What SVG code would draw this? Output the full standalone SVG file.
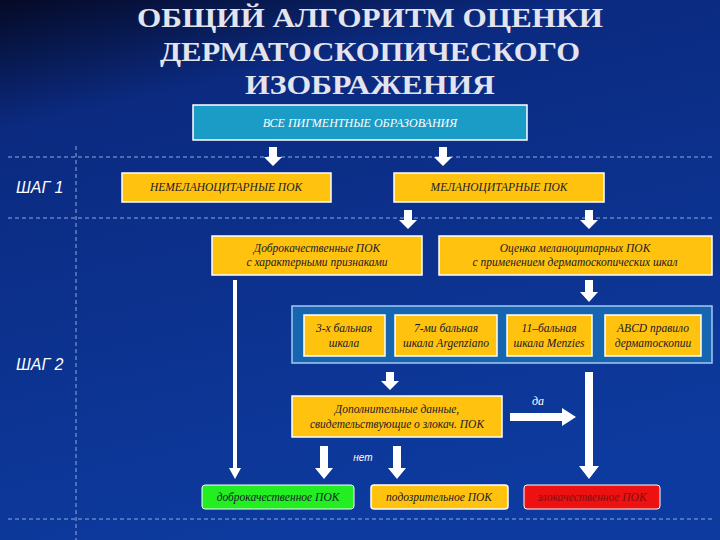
<svg xmlns="http://www.w3.org/2000/svg" width="720" height="540" viewBox="0 0 720 540">
<defs>
<linearGradient id="bg" x1="0" y1="0" x2="0.3" y2="1">
<stop offset="0" stop-color="#050a25"/><stop offset="0.22" stop-color="#0b2a80"/><stop offset="1" stop-color="#0d3a9e"/>
</linearGradient>
<style>
.t{font-family:"Liberation Serif",serif;font-style:italic;font-size:11.5px;text-anchor:middle;fill:#1a1a2a}
.y{fill:#ffc20e;stroke:#ffffff;stroke-width:1.5}
.d{stroke:#8fa8e0;stroke-width:1;stroke-dasharray:4 3;fill:none}
.a{fill:#ffffff}
.s{font-family:"Liberation Sans",sans-serif;font-style:italic;font-size:16px;fill:#ffffff}
.h{font-family:"Liberation Serif","DejaVu Serif",serif;font-weight:bold;font-size:28px;fill:#e4e4ee;text-anchor:middle}
</style>
</defs>
<rect width="720" height="540" fill="url(#bg)"/>
<g id="title">
<text class="h" x="370" y="27" textLength="466" lengthAdjust="spacingAndGlyphs">ОБЩИЙ АЛГОРИТМ ОЦЕНКИ</text>
<text class="h" x="370" y="61" textLength="420" lengthAdjust="spacingAndGlyphs">ДЕРМАТОСКОПИЧЕСКОГО</text>
<text class="h" x="370" y="94" textLength="250" lengthAdjust="spacingAndGlyphs">ИЗОБРАЖЕНИЯ</text>
</g>
<g id="grid">
<line class="d" x1="8" y1="157" x2="712" y2="157"/>
<line class="d" x1="8" y1="218" x2="712" y2="218"/>
<line class="d" x1="8" y1="519" x2="712" y2="519"/>
<line class="d" x1="76" y1="146" x2="76" y2="540"/>
<text class="s" x="16" y="193">ШАГ 1</text>
<text class="s" x="16" y="370">ШАГ 2</text>
</g>
<g id="n-all"><rect x="193" y="105" width="334" height="35" fill="#1a9cc6" stroke="#ffffff" stroke-width="1.5"/><text class="t" x="360" y="127" style="fill:#ffffff;font-size:12px">ВСЕ ПИГМЕНТНЫЕ ОБРАЗОВАНИЯ</text></g>
<g id="n-nonmel"><rect class="y" x="122" y="173" width="209" height="29"/><text class="t" x="226" y="191">НЕМЕЛАНОЦИТАРНЫЕ ПОК</text></g>
<g id="n-mel"><rect class="y" x="394" y="173" width="210" height="29"/><text class="t" x="499" y="191">МЕЛАНОЦИТАРНЫЕ ПОК</text></g>
<g id="n-benign-feat"><rect class="y" x="212" y="236" width="210" height="39"/><text class="t" x="317" y="252">Доброкачественные ПОК</text><text class="t" x="317" y="266">с характерными признаками</text></g>
<g id="n-eval"><rect class="y" x="439" y="236" width="273" height="39"/><text class="t" x="575" y="252">Оценка меланоцитарных ПОК</text><text class="t" x="575" y="266">с применением дерматоскопических шкал</text></g>
<g id="n-scales"><rect x="292" y="306" width="420" height="57" fill="#1565b0" stroke="#a8c8f0" stroke-width="1.5"/></g>
<g id="n-s3"><rect class="y" x="304" y="315" width="81" height="41"/><text class="t" x="344" y="332">3-х бальная</text><text class="t" x="344" y="347">шкала</text></g>
<g id="n-s7"><rect class="y" x="395" y="315" width="102" height="41"/><text class="t" x="446" y="332">7-ми бальная</text><text class="t" x="446" y="347">шкала Argenziano</text></g>
<g id="n-s11"><rect class="y" x="507" y="315" width="85" height="41"/><text class="t" x="549" y="332">11–бальная</text><text class="t" x="549" y="347">шкала Menzies</text></g>
<g id="n-abcd"><rect class="y" x="605" y="315" width="96" height="41"/><text class="t" x="653" y="332">ABCD правило</text><text class="t" x="653" y="347">дерматоскопии</text></g>
<g id="n-extra"><rect class="y" x="292" y="396" width="210" height="41"/><text class="t" x="397" y="413">Дополнительные данные,</text><text class="t" x="397" y="428">свидетельствующие о злокач. ПОК</text></g>
<g id="n-benign"><rect x="202" y="485" width="152" height="24" rx="3" fill="#22ee22" stroke="#ffffff" stroke-width="1"/><text class="t" x="278" y="501">доброкачественное ПОК</text></g>
<g id="n-susp"><rect class="y" x="371" y="485" width="137" height="24" rx="3"/><text class="t" x="439" y="501">подозрительное ПОК</text></g>
<g id="n-malig"><rect x="524" y="485" width="136" height="24" rx="3" fill="#ee1111" stroke="#ffffff" stroke-width="1"/><text class="t" x="592" y="501" style="fill:#801010">злокачественное ПОК</text></g>
<g id="connectors" class="a">
<path d="M269,147h8v10h5l-9,9l-9,-9h5z"/>
<path d="M439,147h8v10h5l-9,9l-9,-9h5z"/>
<path d="M404,210h8v10h5l-9,9l-9,-9h5z"/>
<path d="M585,210h8v10h5l-9,9l-9,-9h5z"/>
<path d="M233,280h4v188h4l-6,11l-6,-11h4z"/>
<path d="M585,280h8v12h5l-9,10l-9,-10h5z"/>
<path d="M386,372h8v9h5l-9,9l-9,-9h5z"/>
<path d="M585,372h8v94h6l-10,13l-10,-13h6z"/>
<path d="M510,413h52v-5l14,9l-14,9v-5h-52z"/>
<path d="M320,446h8v22h5l-9,11l-9,-11h5z"/>
<path d="M393,446h8v22h5l-9,11l-9,-11h5z"/>
<text x="538" y="405" font-family="'Liberation Serif',serif" font-style="italic" font-size="12" fill="#ffffff" text-anchor="middle">да</text>
<text x="363" y="461" font-family="'Liberation Sans',sans-serif" font-style="italic" font-size="10" fill="#ffffff" text-anchor="middle">нет</text>
</g>
</svg>
